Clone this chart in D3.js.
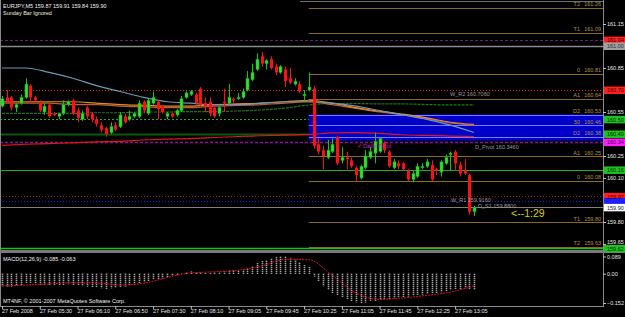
<!DOCTYPE html>
<html>
<head>
<meta charset="utf-8">
<script src="https://cdnjs.cloudflare.com/ajax/libs/d3/7.8.5/d3.min.js"></script>
<style>
body { margin: 0; background: #000; }
svg { display: block; font-family: 'Liberation Sans', Arial, sans-serif; }
</style>
</head>
<body>
<script>
window.document.addEventListener('DOMContentLoaded', init, false);

var svg;
var width = 625;
var height = 317;
var plotRight = 603;

var symbol = 'EURJPY,M5';
var timeLabels = ['27 Feb 2008', '27 Feb 05:30', '27 Feb 06:10', '27 Feb 06:50', '27 Feb 07:30',
    '27 Feb 08:10', '27 Feb 09:05', '27 Feb 09:45', '27 Feb 10:25', '27 Feb 11:05',
    '27 Feb 11:45', '27 Feb 12:25', '27 Feb 13:05'];
var timeLabelBars = [0, 8, 16, 24, 32, 40, 48, 56, 64, 72, 80, 88, 96];

var openPrices = [160.59, 160.65, 160.65, 160.58, 160.61, 160.65, 160.73, 160.65, 160.61, 160.55,
    160.60, 160.54, 160.52, 160.54, 160.60, 160.63, 160.56, 160.50, 160.58, 160.54,
    160.50, 160.46, 160.44, 160.41, 160.46, 160.45, 160.52, 160.50, 160.52, 160.52,
    160.62, 160.54, 160.61, 160.62, 160.59, 160.52, 160.54, 160.53, 160.56, 160.65,
    160.67, 160.67, 160.71, 160.61, 160.62, 160.58, 160.54, 160.62, 160.61, 160.64,
    160.64, 160.65, 160.70, 160.77, 160.84, 160.93, 160.88, 160.91, 160.86, 160.82,
    160.84, 160.78, 160.74, 160.74, 160.66, 160.70, 160.71, 160.33, 160.29, 160.24,
    160.28, 160.38, 160.22, 160.24, 160.22, 160.17, 160.10, 160.17, 160.24, 160.27,
    160.28, 160.34, 160.28, 160.17, 160.20, 160.20, 160.15, 160.09, 160.11, 160.17,
    160.18, 160.19, 160.16, 160.14, 160.20, 160.26, 160.28, 160.19, 160.15, 160.12,
    159.87];
var highPrices = [160.66, 160.70, 160.66, 160.61, 160.67, 160.78, 160.74, 160.66, 160.63, 160.61,
    160.61, 160.55, 160.54, 160.63, 160.63, 160.64, 160.58, 160.56, 160.59, 160.55,
    160.52, 160.48, 160.45, 160.48, 160.48, 160.55, 160.54, 160.56, 160.55, 160.63,
    160.63, 160.64, 160.69, 160.63, 160.60, 160.55, 160.55, 160.57, 160.66, 160.69,
    160.70, 160.68, 160.72, 160.65, 160.65, 160.60, 160.59, 160.71, 160.74, 160.65,
    160.68, 160.71, 160.83, 160.88, 160.95, 160.96, 160.91, 160.93, 160.88, 160.87,
    160.86, 160.85, 160.78, 160.76, 160.70, 160.82, 160.73, 160.37, 160.32, 160.36,
    160.37, 160.39, 160.31, 160.28, 160.24, 160.18, 160.19, 160.29, 160.31, 160.41,
    160.38, 160.35, 160.29, 160.23, 160.22, 160.21, 160.16, 160.15, 160.20, 160.20,
    160.23, 160.22, 160.17, 160.22, 160.26, 160.28, 160.29, 160.21, 160.23, 160.13,
    159.91];
var lowPrices = [160.58, 160.61, 160.56, 160.55, 160.60, 160.64, 160.62, 160.62, 160.55, 160.53,
    160.51, 160.52, 160.50, 160.53, 160.59, 160.53, 160.48, 160.49, 160.50, 160.48,
    160.45, 160.41, 160.38, 160.40, 160.42, 160.44, 160.47, 160.49, 160.51, 160.51,
    160.54, 160.53, 160.60, 160.50, 160.54, 160.50, 160.51, 160.52, 160.55, 160.64,
    160.66, 160.60, 160.59, 160.55, 160.52, 160.51, 160.52, 160.55, 160.60, 160.61,
    160.63, 160.64, 160.69, 160.76, 160.83, 160.86, 160.84, 160.84, 160.80, 160.81,
    160.72, 160.74, 160.73, 160.68, 160.63, 160.69, 160.30, 160.26, 160.16, 160.23,
    160.27, 160.19, 160.20, 160.16, 160.17, 160.08, 160.09, 160.16, 160.23, 160.20,
    160.27, 160.27, 160.17, 160.16, 160.16, 160.15, 160.08, 160.07, 160.10, 160.16,
    160.17, 160.08, 160.12, 160.11, 160.19, 160.15, 160.15, 160.11, 160.12, 159.85,
    159.84];
var closePrices = [160.64, 160.62, 160.58, 160.60, 160.65, 160.74, 160.65, 160.63, 160.56, 160.59,
    160.52, 160.53, 160.54, 160.60, 160.62, 160.54, 160.51, 160.54, 160.52, 160.50,
    160.47, 160.43, 160.40, 160.45, 160.43, 160.53, 160.48, 160.52, 160.54, 160.61,
    160.56, 160.63, 160.65, 160.57, 160.55, 160.54, 160.52, 160.56, 160.64, 160.68,
    160.69, 160.61, 160.60, 160.59, 160.54, 160.52, 160.58, 160.61, 160.65, 160.63,
    160.65, 160.69, 160.78, 160.82, 160.91, 160.88, 160.90, 160.85, 160.82, 160.86,
    160.76, 160.75, 160.76, 160.69, 160.67, 160.72, 160.32, 160.28, 160.25, 160.29,
    160.33, 160.20, 160.24, 160.23, 160.18, 160.12, 160.18, 160.25, 160.28, 160.35,
    160.37, 160.29, 160.18, 160.21, 160.18, 160.16, 160.09, 160.13, 160.18, 160.18,
    160.21, 160.09, 160.15, 160.21, 160.24, 160.27, 160.20, 160.13, 160.13, 159.87,
    159.90];

// moving averages, read every maStep bars
var maStep = 5;
var maSlow = [160.85, 160.85, 160.82, 160.78, 160.73, 160.69, 160.65, 160.62, 160.61, 160.60, 160.60,
    160.61, 160.62, 160.62, 160.61, 160.59, 160.56, 160.53, 160.50, 160.46, 160.41];
var maOrange = [160.62, 160.62, 160.62, 160.62, 160.61, 160.60, 160.595, 160.59, 160.59, 160.60, 160.605,
    160.61, 160.62, 160.63, 160.61, 160.58, 160.555, 160.535, 160.51, 160.48, 160.465];
var maBrown = [160.61, 160.61, 160.61, 160.60, 160.60, 160.59, 160.585, 160.58, 160.58, 160.59, 160.595,
    160.60, 160.61, 160.62, 160.60, 160.575, 160.55, 160.53, 160.505, 160.475, 160.46];
var maGreen = [160.54, 160.54, 160.54, 160.54, 160.545, 160.545, 160.55, 160.55, 160.553, 160.553, 160.557,
    160.564, 160.577, 160.598, 160.608, 160.608, 160.605, 160.605, 160.601, 160.598, 160.598];
var maRed = [160.322, 160.33, 160.335, 160.34, 160.346, 160.35, 160.359, 160.365, 160.369, 160.376, 160.383,
    160.388, 160.393, 160.397, 160.407, 160.41, 160.404, 160.395, 160.39, 160.386, 160.383];

var macdMain = [-0.065, -0.066, -0.066, -0.064, -0.060, -0.052, -0.050, -0.052,
    -0.056, -0.057, -0.060, -0.062, -0.063, -0.058, -0.055, -0.058,
    -0.062, -0.064, -0.066, -0.068, -0.072, -0.075, -0.078, -0.076,
    -0.074, -0.068, -0.066, -0.062, -0.056, -0.048, -0.045, -0.038,
    -0.030, -0.028, -0.024, -0.020, -0.012, -0.006, -0.002, 0.008,
    0.012, 0.010, 0.006, 0.004, 0.004, 0.006, 0.010, 0.012,
    0.016, 0.018, 0.020, 0.022, 0.030, 0.040, 0.055, 0.066,
    0.072, 0.080, 0.086, 0.089, 0.088, 0.084, 0.074, 0.060,
    0.045, 0.035, -0.015, -0.040, -0.065, -0.085, -0.100, -0.115,
    -0.125, -0.135, -0.143, -0.148, -0.152, -0.150, -0.146, -0.140,
    -0.136, -0.133, -0.130, -0.127, -0.124, -0.121, -0.118, -0.115,
    -0.112, -0.108, -0.106, -0.104, -0.100, -0.096, -0.090, -0.085,
    -0.080, -0.078, -0.076, -0.080, -0.085];
var macdSignal = [-0.064, -0.059, -0.053, -0.047, -0.048, -0.059, -0.050, -0.020, 0.004, 0.010, 0.018,
    0.040, 0.074, 0.072, -0.010, -0.100, -0.133, -0.126, -0.112, -0.096, -0.063];

var priceTicks = [161.15, 160.85, 160.55, 160.25, 160.10, 159.80, 159.65];
var macdTicks = [0.089, 0, -0.152];

var levelNames = ['T2', 'T1', '0', 'A1', 'D2', '50', 'D2', 'A1', '0', 'T1', 'T2'];
var levelValues = [161.26, 161.09, 160.81, 160.64, 160.53, 160.46, 160.38, 160.25, 160.08, 159.80, 159.63];
var levelStartBar = 65;
var zoneTop = 160.535;
var zoneBottom = 160.355;

var pivotNames = ['W_R2', 'D_Pivot', 'W_R1', 'D_S1'];
var pivotValues = [160.7060, 160.3460, 159.9160, 159.8800];

var tagValues = [161.04, 161.00, 160.70, 160.50, 160.40, 160.345, 160.155, 159.975, 159.94, 159.90, 159.62];
var timerText = '<--1:29';

var tagStyles = [
    { line: '#7a1a7a', dash: '3,2', w: 1, bg: '#ff2020', fg: '#400000' },
    { line: '#8a8a8a', dash: null, w: 1.5, bg: '#a0a0a0', fg: '#303030' },
    { line: '#ff2020', dash: '1,2', w: 1, bg: '#ff2020', fg: '#400000' },
    { line: '#20b020', dash: '2,2', w: 1, bg: '#20c020', fg: '#003000' },
    { line: '#0a5a0a', dash: null, w: 2, bg: '#20c020', fg: '#003000' },
    { line: '#9010a0', dash: '3,2', w: 1.5, bg: '#ff20ff', fg: '#400040' },
    { line: '#20b020', dash: null, w: 1, bg: '#20c020', fg: '#003000' },
    { line: '#a02020', dash: '1,2', w: 1, bg: '#ff2020', fg: '#400000' },
    { line: '#2020ff', dash: '1,2', w: 1, bg: '#2020ff', fg: '#2020ff' },
    { line: '#808080', dash: null, w: 1, bg: '#ffffff', fg: '#202020' },
    { line: '#20c020', dash: null, w: 1.5, bg: '#20c020', fg: '#003000' }
];

var x = d3.scaleLinear().domain([0, 100]).range([2, 474]);
var y = d3.scaleLinear().domain([161.15, 159.65]).range([24, 244]);
var macdY = d3.scaleLinear().domain([-0.152, 0.089]).range([303, 256.5]);

function init() {
    svg = createCanvas();
    drawTagLines();
    drawZone();
    drawLevels();
    drawAverages();
    drawCandles();
    drawPivotTexts();
    drawMacd();
    drawFrame();
    drawAxes();
    drawTags();
    drawTitles();
}

function createCanvas() {
    return d3.select('body')
        .append('svg')
        .attr('width', width)
        .attr('height', height)
        .style('background', '#000');
}

function drawTagLines() {
    svg.append('g').selectAll('line')
        .data(tagValues)
        .enter()
            .append('line')
            .attr('x1', 0)
            .attr('x2', plotRight)
            .attr('y1', function(d) { return Math.round(y(d)) + 0.5; })
            .attr('y2', function(d) { return Math.round(y(d)) + 0.5; })
            .attr('stroke', function(d, i) { return tagStyles[i].line; })
            .attr('stroke-width', function(d, i) { return tagStyles[i].w; })
            .attr('stroke-dasharray', function(d, i) { return tagStyles[i].dash; });
}

function drawZone() {
    svg.append('rect')
        .attr('x', x(levelStartBar))
        .attr('y', y(zoneTop))
        .attr('width', plotRight - x(levelStartBar))
        .attr('height', y(zoneBottom) - y(zoneTop))
        .attr('fill', '#0000c8');
}

function drawLevels() {
    var g = svg.append('g');
    g.selectAll('line')
        .data(levelValues)
        .enter()
            .append('line')
            .attr('x1', x(levelStartBar))
            .attr('x2', plotRight)
            .attr('y1', function(d) { return Math.round(y(d)) + 0.5; })
            .attr('y2', function(d) { return Math.round(y(d)) + 0.5; })
            .attr('stroke', function(d) { return (d < zoneTop && d > zoneBottom) ? '#7a7aff' : '#8c6a1e'; });
    g.selectAll('text.name')
        .data(levelValues)
        .enter()
            .append('text')
            .attr('class', 'name')
            .attr('x', 580)
            .attr('y', function(d) { return y(d) - 1.5; })
            .attr('text-anchor', 'end')
            .attr('font-size', '5.5px')
            .attr('fill', '#b4914b')
            .text(function(d, i) { return levelNames[i]; });
    g.selectAll('text.val')
        .data(levelValues)
        .enter()
            .append('text')
            .attr('class', 'val')
            .attr('x', 601)
            .attr('y', function(d) { return y(d) - 1.5; })
            .attr('text-anchor', 'end')
            .attr('font-size', '5.5px')
            .attr('fill', '#b4914b')
            .text(function(d) { return d.toFixed(2); });
}

function drawAverages() {
    var line = d3.line()
        .x(function(d, k) { return x(k * maStep); })
        .y(function(d) { return y(d); })
        .curve(d3.curveMonotoneX);
    var series = [
        { v: maRed, c: '#e01818', w: 1.2, dash: null },
        { v: maGreen, c: '#1a7a1a', w: 1.2, dash: '3,1' },
        { v: maBrown, c: '#b0604a', w: 1.2, dash: null },
        { v: maOrange, c: '#f08a10', w: 1.2, dash: null },
        { v: maSlow, c: '#6a9ab8', w: 1.2, dash: null }
    ];
    svg.append('g').selectAll('path')
        .data(series)
        .enter()
            .append('path')
            .attr('d', function(d) { return line(d.v); })
            .attr('fill', 'none')
            .attr('stroke', function(d) { return d.c; })
            .attr('stroke-width', function(d) { return d.w; })
            .attr('stroke-dasharray', function(d) { return d.dash; });
}

function drawCandles() {
    var bars = openPrices.map(function(o, i) {
        return { i: i, o: o, h: highPrices[i], l: lowPrices[i], c: closePrices[i] };
    });
    var color = function(d) { return d.c >= d.o ? '#10c810' : '#ff1010'; };
    var g = svg.append('g');
    g.selectAll('line')
        .data(bars)
        .enter()
            .append('line')
            .attr('x1', function(d) { return Math.round(x(d.i)) + 0.5; })
            .attr('x2', function(d) { return Math.round(x(d.i)) + 0.5; })
            .attr('y1', function(d) { return y(d.h); })
            .attr('y2', function(d) { return y(d.l); })
            .attr('stroke', color);
    g.selectAll('rect')
        .data(bars)
        .enter()
            .append('rect')
            .attr('x', function(d) { return Math.round(x(d.i)) - 1; })
            .attr('width', 3)
            .attr('y', function(d) { return y(Math.max(d.o, d.c)); })
            .attr('height', function(d) { return Math.max(1.2, Math.abs(y(d.o) - y(d.c))); })
            .attr('fill', function(d) { return d.c >= d.o ? '#30e030' : '#ff1010'; })
            .attr('stroke', function(d) { return d.c >= d.o ? '#10a010' : 'none'; })
            .attr('stroke-width', 0.5);
}

function drawPivotTexts() {
    var offsets = [7, 7, -2.5, -2.5];
    var starts = [450, 475, 451, 478];
    svg.append('g').selectAll('text')
        .data(pivotValues)
        .enter()
            .append('text')
            .attr('x', function(d, i) { return starts[i]; })
            .attr('y', function(d, i) { return y(d) + offsets[i]; })
            .attr('font-size', '5.5px')
            .attr('fill', '#9a9a9a')
            .text(function(d, i) { return pivotNames[i] + ' ' + d.toFixed(4); });

    svg.append('text')
        .attr('x', 357)
        .attr('y', y(pivotValues[1]) + 6.5)
        .attr('font-size', '6px')
        .attr('fill', '#ff2020')
        .text('\u2713');
    svg.append('text')
        .attr('x', 363)
        .attr('y', y(pivotValues[1]) + 6.5)
        .attr('font-size', '6px')
        .attr('fill', '#c020c0')
        .text('Daily Pivot');

    svg.append('text')
        .attr('x', 511)
        .attr('y', y(closePrices[closePrices.length - 1]) + 10)
        .attr('font-size', '10.5px')
        .attr('fill', '#d2d200')
        .text(timerText);
}

function drawMacd() {
    var g = svg.append('g');
    g.selectAll('line')
        .data(macdMain)
        .enter()
            .append('line')
            .attr('x1', function(d, i) { return Math.round(x(i)) + 0.5; })
            .attr('x2', function(d, i) { return Math.round(x(i)) + 0.5; })
            .attr('y1', macdY(0))
            .attr('y2', function(d) { return macdY(d); })
            .attr('stroke', '#d8d8d8')
            .attr('stroke-width', 1.6)
            .attr('stroke-dasharray', '1,1');
    var line = d3.line()
        .x(function(d, k) { return x(k * maStep); })
        .y(function(d) { return macdY(d); })
        .curve(d3.curveMonotoneX);
    g.append('path')
        .attr('d', line(macdSignal))
        .attr('fill', 'none')
        .attr('stroke', '#e01020')
        .attr('stroke-width', 1)
        .attr('stroke-dasharray', '2,1');
}

function drawFrame() {
    var g = svg.append('g').attr('fill', 'none');
    g.append('line').attr('x1', 0.5).attr('x2', 0.5).attr('y1', 0).attr('y2', 307).attr('stroke', '#8a8a8a');
    g.append('line').attr('x1', plotRight + 0.5).attr('x2', plotRight + 0.5).attr('y1', 0).attr('y2', 307).attr('stroke', '#8a8a8a');
    g.append('rect').attr('x', 0).attr('y', 250).attr('width', width).attr('height', 3).attr('fill', '#7a7a7a');
    g.append('line').attr('x1', 0).attr('x2', plotRight).attr('y1', 306.5).attr('y2', 306.5).attr('stroke', '#8a8a8a');
    g.append('line').attr('x1', 300).attr('x2', plotRight).attr('y1', 1.5).attr('y2', 1.5).attr('stroke', '#707070');
}

function drawAxes() {
    var priceAxis = d3.axisRight(y)
        .tickValues(priceTicks)
        .tickSize(3)
        .tickFormat(d3.format('.2f'));
    var pa = svg.append('g')
        .attr('transform', 'translate(' + plotRight + ', 0)')
        .call(priceAxis);

    var macdAxis = d3.axisRight(macdY)
        .tickValues(macdTicks)
        .tickSize(3)
        .tickFormat(function(d) { return d === 0 ? '0.00' : d3.format('.3f')(d); });
    var ma = svg.append('g')
        .attr('transform', 'translate(' + plotRight + ', 0)')
        .call(macdAxis);

    var timeAxis = d3.axisBottom(x)
        .tickValues(timeLabelBars)
        .tickSize(3)
        .tickFormat(function(d, i) { return timeLabels[i]; });
    var ta = svg.append('g')
        .attr('transform', 'translate(0, 306)')
        .call(timeAxis);
    ta.selectAll('text').attr('text-anchor', 'start').attr('dx', '-0.5').attr('dy', '0.2em');

    [pa, ma, ta].forEach(function(a) {
        a.select('.domain').remove();
        a.selectAll('line').attr('stroke', '#c0c0c0');
        a.selectAll('text').attr('fill', '#e8e8e8').attr('font-size', '5.5px')
            .attr('font-family', "'Liberation Sans', Arial, sans-serif");
    });
    pa.selectAll('text').attr('x', 4);
    ma.selectAll('text').attr('x', 4);
    // the lowest price label sits just above the green tag, as in the terminal
    pa.selectAll('.tick').filter(function(d) { return d === priceTicks[priceTicks.length - 1]; })
        .select('text').attr('dy', '-0.05em');
}

function drawTags() {
    var g = svg.append('g');
    g.selectAll('rect')
        .data(tagValues)
        .enter()
            .append('rect')
            .attr('x', plotRight + 1)
            .attr('y', function(d) { return y(d) - 3.5; })
            .attr('width', width - plotRight - 1)
            .attr('height', 7.5)
            .attr('fill', function(d, i) { return tagStyles[i].bg; });
    g.selectAll('text')
        .data(tagValues)
        .enter()
            .append('text')
            .attr('x', plotRight + 4)
            .attr('y', function(d) { return y(d) + 2.3; })
            .attr('font-size', '5.5px')
            .attr('fill', function(d, i) { return tagStyles[i].fg; })
            .text(function(d) { return d.toFixed(2); });
}

function drawTitles() {
    var last = openPrices.length - 1;
    var ohlc = [openPrices[last], highPrices[last], lowPrices[last], closePrices[last]];
    svg.append('text')
        .attr('x', 3).attr('y', 8)
        .attr('font-size', '5.5px').attr('fill', '#f0f0f0')
        .text(symbol + ' ' + ohlc.map(function(v) { return v.toFixed(2); }).join(' '));
    svg.append('text')
        .attr('x', 3).attr('y', 15)
        .attr('font-size', '5.5px').attr('fill', '#f0f0d8')
        .text('Sunday Bar Ignored');
    svg.append('text')
        .attr('x', 3).attr('y', 261)
        .attr('font-size', '5.5px').attr('fill', '#f0f0f0')
        .text('MACD(12,26,9) ' + macdMain[macdMain.length - 1].toFixed(3) + ' ' + macdSignal[macdSignal.length - 1].toFixed(3));
    svg.append('text')
        .attr('x', 3).attr('y', 303)
        .attr('font-size', '5.5px').attr('fill', '#f0f0f0')
        .text('MT4NF, \u00a9 2001-2007 MetaQuotes Software Corp.');
}
</script>
</body>
</html>
